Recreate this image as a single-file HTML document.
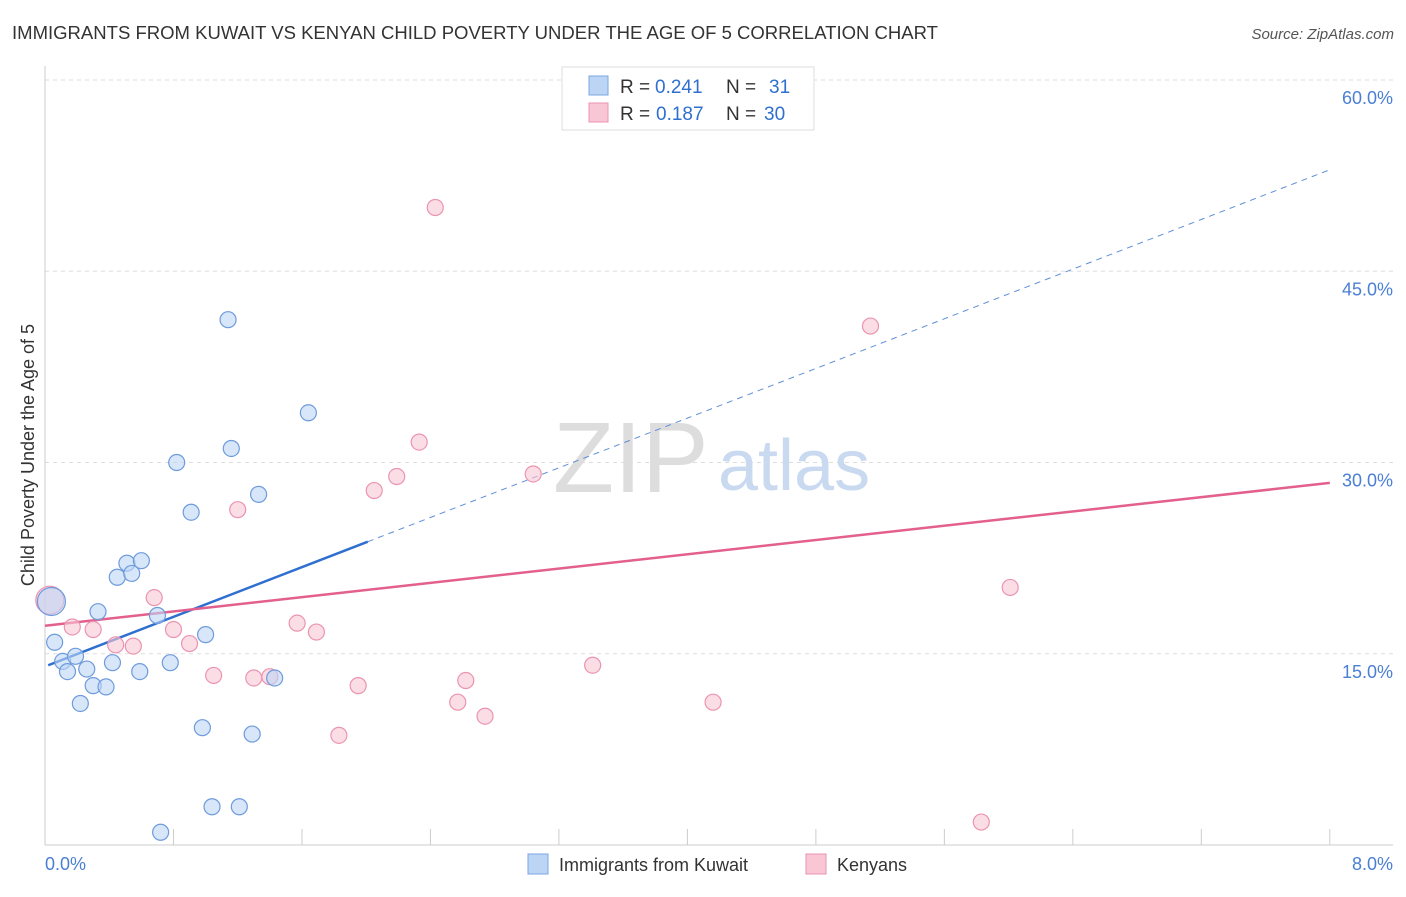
<!DOCTYPE html>
<html><head><meta charset="utf-8"><style>
body{margin:0;background:#fff;font-family:"Liberation Sans",sans-serif;}
svg text{font-family:"Liberation Sans",sans-serif;}
</style></head><body>
<svg id="chart" width="1406" height="892" xmlns="http://www.w3.org/2000/svg">
<text x="12" y="39" font-size="18" fill="#333" textLength="926" lengthAdjust="spacingAndGlyphs">IMMIGRANTS FROM KUWAIT VS KENYAN CHILD POVERTY UNDER THE AGE OF 5 CORRELATION CHART</text>
<text x="1394" y="39" font-size="15" fill="#555" font-style="italic" text-anchor="end">Source: ZipAtlas.com</text>
<g id="grid"></g>
<text x="553" y="492" font-size="100" fill="#ddd" font-family="Liberation Serif">ZIP</text>
<text x="718" y="490" font-size="72" fill="#c9d9f0">atlas</text>
<g id="trend"></g>
<g id="pts"></g>
<text transform="translate(34,455) rotate(-90)" font-size="18" fill="#333" text-anchor="middle">Child Poverty Under the Age of 5</text>
<text x="45" y="870" font-size="18" fill="#4a7fd4">0.0%</text>
<text x="1393" y="870" font-size="18" fill="#4a7fd4" text-anchor="end">8.0%</text>
<g>
<rect x="562" y="67" width="252" height="63" fill="#fff" stroke="#ddd"/>
<rect x="589" y="76" width="19" height="19" fill="#bcd5f5" stroke="#7aa6e0"/>
<rect x="589" y="103" width="19" height="19" fill="#f9c6d6" stroke="#eb94b2"/>
<text x="620" y="93" font-size="19" fill="#333">R =</text>
<text x="655" y="93" font-size="19" fill="#2f6fd0">0.241</text>
<text x="726" y="93" font-size="19" fill="#333">N =</text>
<text x="769" y="93" font-size="19" fill="#2f6fd0">31</text>
<text x="620" y="120" font-size="19" fill="#333">R =</text>
<text x="656" y="120" font-size="19" fill="#2f6fd0">0.187</text>
<text x="726" y="120" font-size="19" fill="#333">N =</text>
<text x="764" y="120" font-size="19" fill="#2f6fd0">30</text>
</g>
<g>
<rect x="528" y="854" width="20" height="20" fill="#bcd5f5" stroke="#7aa6e0"/>
<text x="559" y="871" font-size="18" fill="#333">Immigrants from Kuwait</text>
<rect x="806" y="854" width="20" height="20" fill="#f9c6d6" stroke="#eb94b2"/>
<text x="837" y="871" font-size="18" fill="#333">Kenyans</text>
</g>
</svg>
<script>
const yTicks=[15,30,45,60];
const xTicks=[0,0.8,1.6,2.4,3.2,4.0,4.8,5.6,6.4,7.2,8.0];
const blueX=[0.04,0.06,0.11,0.14,0.19,0.22,0.26,0.30,0.33,0.38,0.42,0.45,0.51,0.54,0.60,0.59,0.70,0.72,0.78,0.82,0.91,0.98,1.00,1.04,1.14,1.16,1.21,1.29,1.33,1.43,1.64];
const blueY=[19.1,15.9,14.4,13.6,14.8,11.1,13.8,12.5,18.3,12.4,14.3,21.0,22.1,21.3,22.3,13.6,18.0,1.0,14.3,30.0,26.1,9.2,16.5,3.0,41.2,31.1,3.0,8.7,27.5,13.1,33.9];
const pinkX=[0.03,0.17,0.30,0.44,0.55,0.68,0.80,0.90,1.05,1.20,1.30,1.40,1.57,1.69,1.83,1.95,2.05,2.19,2.33,2.43,2.57,2.62,2.74,3.04,3.41,4.16,5.14,5.83,6.01];
const pinkY=[19.2,17.1,16.9,15.7,15.6,19.4,16.9,15.8,13.3,26.3,13.1,13.2,17.4,16.7,8.6,12.5,27.8,28.9,31.6,50.0,11.2,12.9,10.1,29.1,14.1,11.2,40.7,1.8,20.2];
const blueTrend=[14.0,4.87];
const pinkTrend=[17.2,1.4];
const NS='http://www.w3.org/2000/svg';
const sx=v=>45+v*160.6, sy=v=>845-v*12.75;
function mk(t,a,p){const e=document.createElementNS(NS,t);for(const k in a)e.setAttribute(k,a[k]);p.appendChild(e);return e;}
const g=document.getElementById('grid');
yTicks.forEach(t=>{
 const l=mk('line',{x1:45,x2:1393,y1:sy(t),y2:sy(t),stroke:'#ddd','stroke-dasharray':'4,4'},g);
 
 
 const tx=mk('text',{x:1393,y:sy(t)+24,'font-size':18,fill:'#4a7fd4','text-anchor':'end'},g);
 tx.textContent=t.toFixed(1)+'%';
 
 
});
const ax=mk('line',{x1:45,x2:1393,y1:845,y2:845,stroke:'#ccc'},g);


const ay=mk('line',{x1:45,x2:45,y1:66,y2:845,stroke:'#ccc'},g);


xTicks.forEach(t=>{
 const l=mk('line',{x1:sx(t),x2:sx(t),y1:829,y2:845,stroke:'#ccc'},g);
 
 
});
const tr=document.getElementById('trend');
const bEnd=2.01;
let l1=mk('line',{x1:sx(0.02),y1:sy(blueTrend[0]+blueTrend[1]*0.02),x2:sx(bEnd),y2:sy(blueTrend[0]+blueTrend[1]*bEnd),stroke:'#2f6fd0','stroke-width':2.5},tr);


let l2=mk('line',{x1:sx(bEnd),y1:sy(blueTrend[0]+blueTrend[1]*bEnd),x2:sx(8),y2:sy(blueTrend[0]+blueTrend[1]*8),stroke:'#5f8fd8','stroke-width':1,'stroke-dasharray':'6,5'},tr);


let l3=mk('line',{x1:sx(0),y1:sy(pinkTrend[0]),x2:sx(8),y2:sy(pinkTrend[0]+pinkTrend[1]*8),stroke:'#e3608e','stroke-width':2.5},tr);


const pg=document.getElementById('pts');
function pts(X,Y,fill,stroke,name){
 X.forEach((x,i)=>{
  const c=mk('circle',{cx:sx(x),cy:sy(Y[i]),r:i===0?14:8,fill:fill,stroke:stroke,'stroke-width':1.2,'fill-opacity':0.6},pg);
  
  
 });
}
pts(pinkX,pinkY,'#f9c6d6','#eb94b2','kenyans-point');
pts(blueX,blueY,'#bcd5f5','#6e9bdc','kuwait-point');
</script>
</body></html>
